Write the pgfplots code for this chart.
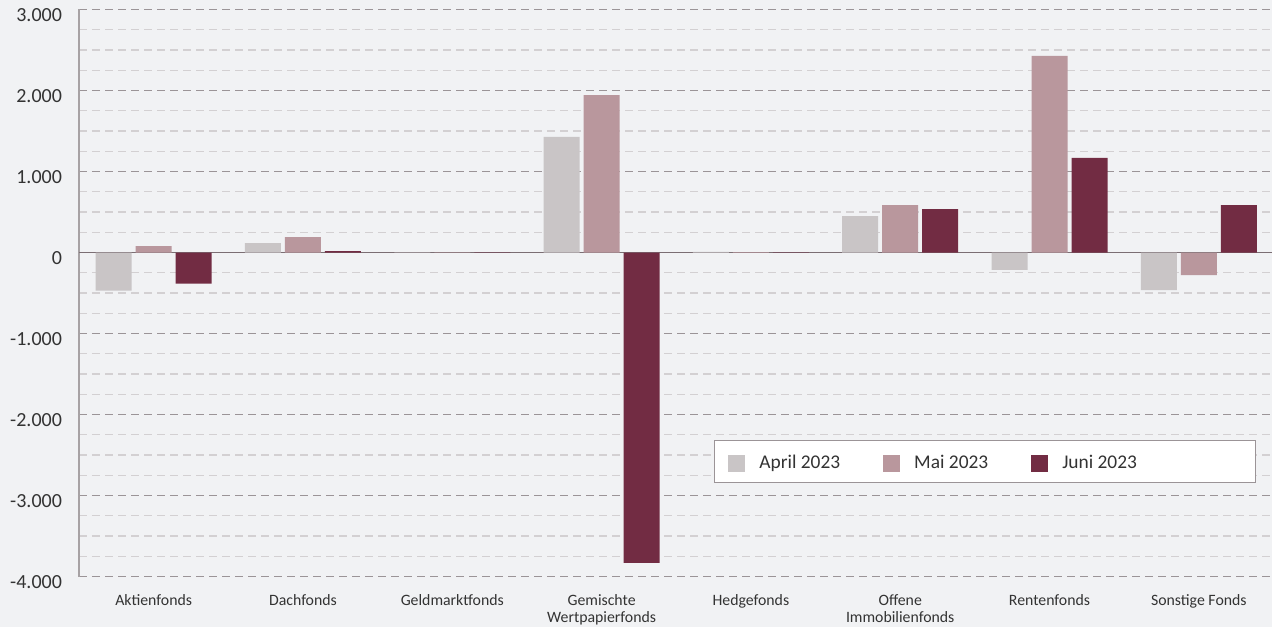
\documentclass[border=0pt]{standalone}
\usepackage{pgfplots}
\pgfplotsset{compat=1.18}
\usepackage{fontspec}
\setmainfont{Carlito}
\definecolor{bg}{HTML}{F1F2F4}
\definecolor{capr}{HTML}{C9C5C6}
\definecolor{cmai}{HTML}{B9979D}
\definecolor{cjun}{HTML}{722C43}
\definecolor{gmaj}{HTML}{9B9497}
\definecolor{gmin}{HTML}{D3D0D2}
\definecolor{zline}{HTML}{7B6E73}
\definecolor{yline}{HTML}{A7A2A4}
\definecolor{txt}{HTML}{333333}
\begin{document}
\begin{tikzpicture}
\path[use as bounding box, fill=bg] (-39.5pt,-25.25pt) rectangle (596.5pt,288.25pt);
\begin{axis}[
  at={(0pt,0pt)}, anchor=south west,
  scale only axis, width=596.5pt, height=283.5pt,
  xmin=-0.5, xmax=7.49, ymin=-4000, ymax=3000,
  ybar=2pt, bar width=18pt,
  axis y line*=left, axis x line*=bottom,
  x axis line style={draw=none},
  y axis line style={draw=yline, line width=0.8pt},
  major tick length=0pt, minor tick length=0pt,
  xtick={0,...,7},
  xticklabels={Aktienfonds,Dachfonds,Geldmarktfonds,{Gemischte\\Wertpapierfonds},Hedgefonds,{Offene\\Immobilienfonds},Rentenfonds,Sonstige Fonds},
  xticklabel style={align=center, font=\fontsize{7.9}{8.7}\selectfont, text=txt, yshift=-5.5pt},
  ytick={-4000,-3000,-2000,-1000,0,1000,2000,3000},
  yticklabels={-4.000,-3.000,-2.000,-1.000,0,1.000,2.000,3.000},
  yticklabel style={font=\fontsize{10}{12}\selectfont, text=txt, xshift=-5pt, yshift=-3pt},
  minor y tick num=3,
  ymajorgrids, yminorgrids,
  major grid style={draw=gmaj, line width=0.6pt, dash pattern=on 4pt off 2.5pt},
  minor grid style={draw=gmin, line width=0.6pt, dash pattern=on 4pt off 2.5pt},
  extra y ticks={0}, extra y tick labels={},
  extra y tick style={grid=major, major grid style={draw=zline, solid, line width=0.8pt}},
  legend style={draw=none, fill=none, at={(rel axis cs:0.544,0.2)}, anchor=west,
    font=\fontsize{9.7}{12}\selectfont, text=txt, inner sep=0pt},
  legend columns=3,
  /tikz/every odd column/.append style={column sep=5pt},
  /tikz/every even column/.append style={column sep=19.5pt},
  legend image code/.code={\fill[#1] (0pt,-4.25pt) rectangle (8.5pt,4.25pt);},
  legend cell align=left,
]
\draw[fill=white, draw=gmaj, line width=0.5pt] (rel axis cs:0.533,0.2407) rectangle (rel axis cs:0.9858,0.165);
\addplot[fill=capr, draw=none] coordinates {(0,-470) (1,117) (2,3) (3,1426) (4,8) (5,450) (6,-216) (7,-463)};
\addplot[fill=cmai, draw=none] coordinates {(0,80) (1,191) (2,2) (3,1944) (4,6) (5,586) (6,2426) (7,-278)};
\addplot[fill=cjun, draw=none] coordinates {(0,-385) (1,18) (2,2) (3,-3833) (4,-4) (5,537) (6,1167) (7,586)};
\legend{April 2023, Mai 2023, Juni 2023}
\end{axis}
\end{tikzpicture}
\end{document}
